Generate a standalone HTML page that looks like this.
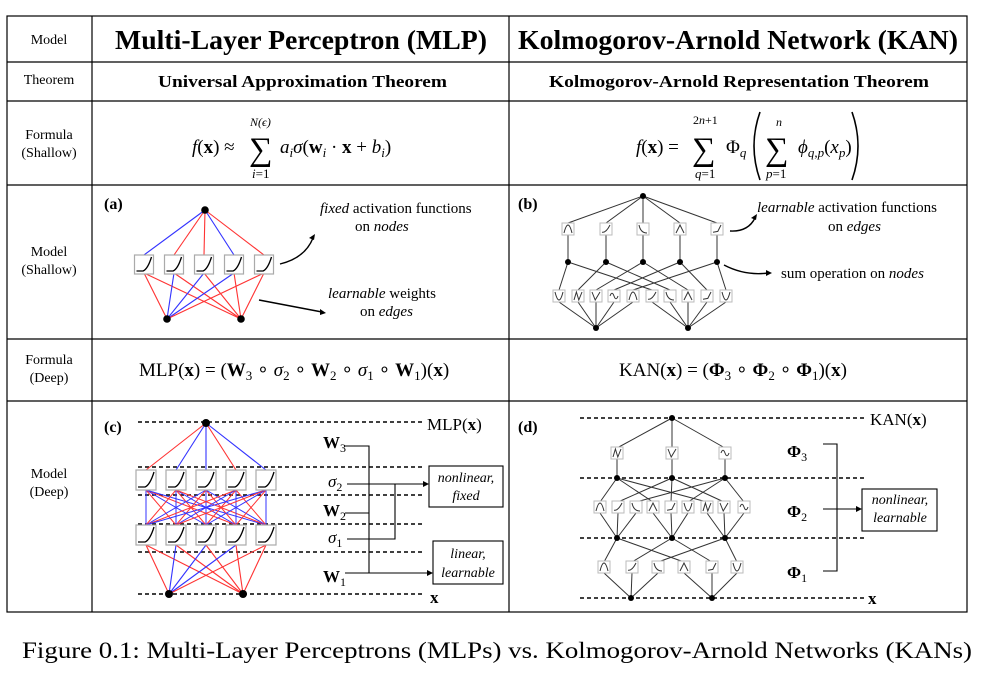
<!DOCTYPE html>
<html><head><meta charset="utf-8"><style>
html,body{margin:0;padding:0;background:#fff;}
svg{display:block;font-family:"Liberation Serif",serif;}
</style></head><body>
<svg id="s" width="1004" height="674" viewBox="0 0 1004 674" xmlns="http://www.w3.org/2000/svg">
<g stroke="#000" stroke-width="1.2" fill="none">
<rect x="7" y="16" width="960" height="596"/>
<line x1="92" y1="16" x2="92" y2="612"/><line x1="509" y1="16" x2="509" y2="612"/>
<line x1="7" y1="62" x2="967" y2="62"/><line x1="7" y1="101" x2="967" y2="101"/>
<line x1="7" y1="185" x2="967" y2="185"/><line x1="7" y1="339" x2="967" y2="339"/>
<line x1="7" y1="401" x2="967" y2="401"/>
</g>
<g font-size="14" text-anchor="middle">
<text x="49" y="44">Model</text>
<text x="49" y="84">Theorem</text>
<text x="49" y="139">Formula</text><text x="49" y="157">(Shallow)</text>
<text x="49" y="256">Model</text><text x="49" y="274">(Shallow)</text>
<text x="49" y="364">Formula</text><text x="49" y="382">(Deep)</text>
<text x="49" y="478">Model</text><text x="49" y="496">(Deep)</text>
</g>
<g font-weight="bold">
<text x="115" y="49" font-size="27" textLength="372" lengthAdjust="spacingAndGlyphs">Multi-Layer Perceptron (MLP)</text>
<text x="518" y="49" font-size="27" textLength="440" lengthAdjust="spacingAndGlyphs">Kolmogorov-Arnold Network (KAN)</text>
<text x="158" y="87" font-size="17" textLength="289" lengthAdjust="spacingAndGlyphs">Universal Approximation Theorem</text>
<text x="549" y="87" font-size="17" textLength="380" lengthAdjust="spacingAndGlyphs">Kolmogorov-Arnold Representation Theorem</text>
</g>
<!-- MLP shallow formula -->
<g font-size="19">
<text x="192" y="153"><tspan font-style="italic">f</tspan>(<tspan font-weight="bold">x</tspan>) ≈</text>
<text x="249" y="160" font-size="33">∑</text>
<text x="250" y="126" font-size="12" font-style="italic">N(ϵ)</text>
<text x="252" y="178" font-size="13"><tspan font-style="italic">i</tspan>=1</text>
<text x="280" y="153"><tspan font-style="italic">a</tspan><tspan font-size="13" font-style="italic" dy="4">i</tspan><tspan font-style="italic" dy="-4">σ</tspan>(<tspan font-weight="bold">w</tspan><tspan font-size="13" font-style="italic" dy="4">i</tspan><tspan dy="-4"> · </tspan><tspan font-weight="bold">x</tspan> + <tspan font-style="italic">b</tspan><tspan font-size="13" font-style="italic" dy="4">i</tspan><tspan dy="-4">)</tspan></text>
</g>
<!-- KAN shallow formula -->
<g font-size="19">
<text x="636" y="153"><tspan font-style="italic">f</tspan>(<tspan font-weight="bold">x</tspan>) =</text>
<text x="692" y="160" font-size="33">∑</text>
<text x="693" y="124" font-size="12">2<tspan font-style="italic">n</tspan>+1</text>
<text x="695" y="178" font-size="13"><tspan font-style="italic">q</tspan>=1</text>
<text x="726" y="153">Φ<tspan font-size="13" font-style="italic" dy="4">q</tspan></text>
<path d="M760 112 Q748 146 760 180" stroke="#000" stroke-width="1.6" fill="none"/>
<text x="765" y="160" font-size="33">∑</text>
<text x="776" y="126" font-size="12" font-style="italic">n</text>
<text x="766" y="178" font-size="13"><tspan font-style="italic">p</tspan>=1</text>
<text x="798" y="153" font-style="italic">ϕ<tspan font-size="13" dy="4">q,p</tspan><tspan dy="-4" font-style="normal">(</tspan>x<tspan font-size="13" dy="4">p</tspan><tspan dy="-4" font-style="normal">)</tspan></text>
<path d="M852 112 Q864 146 852 180" stroke="#000" stroke-width="1.6" fill="none"/>
</g>
<!-- deep formulas -->
<g font-size="19">
<text x="139" y="376">MLP(<tspan font-weight="bold">x</tspan>) = (<tspan font-weight="bold">W</tspan><tspan font-size="13" dy="4">3</tspan><tspan dy="-4"> ∘ </tspan><tspan font-style="italic">σ</tspan><tspan font-size="13" dy="4">2</tspan><tspan dy="-4"> ∘ </tspan><tspan font-weight="bold">W</tspan><tspan font-size="13" dy="4">2</tspan><tspan dy="-4"> ∘ </tspan><tspan font-style="italic">σ</tspan><tspan font-size="13" dy="4">1</tspan><tspan dy="-4"> ∘ </tspan><tspan font-weight="bold">W</tspan><tspan font-size="13" dy="4">1</tspan><tspan dy="-4">)(</tspan><tspan font-weight="bold">x</tspan>)</text>
<text x="619" y="376">KAN(<tspan font-weight="bold">x</tspan>) = (<tspan font-weight="bold">Φ</tspan><tspan font-size="13" dy="4">3</tspan><tspan dy="-4"> ∘ </tspan><tspan font-weight="bold">Φ</tspan><tspan font-size="13" dy="4">2</tspan><tspan dy="-4"> ∘ </tspan><tspan font-weight="bold">Φ</tspan><tspan font-size="13" dy="4">1</tspan><tspan dy="-4">)(</tspan><tspan font-weight="bold">x</tspan>)</text>
</g>
<g font-weight="bold" font-size="16">
<text x="104" y="209">(a)</text><text x="518" y="209">(b)</text>
<text x="104" y="432">(c)</text><text x="518" y="432">(d)</text>
</g>
<g font-size="15">
<text x="320" y="213"><tspan font-style="italic">fixed</tspan> activation functions</text>
<text x="355" y="231">on <tspan font-style="italic">nodes</tspan></text>
<text x="328" y="298"><tspan font-style="italic">learnable</tspan> weights</text>
<text x="360" y="316">on <tspan font-style="italic">edges</tspan></text>
<text x="757" y="212"><tspan font-style="italic">learnable</tspan> activation functions</text>
<text x="828" y="231">on <tspan font-style="italic">edges</tspan></text>
<text x="781" y="278">sum operation on <tspan font-style="italic">nodes</tspan></text>
</g>
<g stroke="#000" stroke-width="1.4" fill="none">
<path d="M280 264 Q305 258 313 238"/><path d="M259 300 Q290 306 322 312"/>
<path d="M730 231 Q748 232 755 218"/><path d="M724 265 Q745 276 768 273"/>
</g>
<g fill="#000">
<path d="M315 234 l-6 4 l5 2z"/><path d="M326 313 l-6 -4 l0 6z"/>
<path d="M757 214 l-6 4 l5 2z"/><path d="M772 273 l-6 -3 l0 6z"/>
</g>
<g font-size="17">
<text x="427" y="430">MLP(<tspan font-weight="bold">x</tspan>)</text>
<text x="323" y="448" font-weight="bold">W<tspan font-size="12" dy="4" font-weight="normal">3</tspan></text>
<text x="328" y="487" font-style="italic">σ<tspan font-size="12" dy="4" font-style="normal">2</tspan></text>
<text x="323" y="516" font-weight="bold">W<tspan font-size="12" dy="4" font-weight="normal">2</tspan></text>
<text x="328" y="543" font-style="italic">σ<tspan font-size="12" dy="4" font-style="normal">1</tspan></text>
<text x="323" y="582" font-weight="bold">W<tspan font-size="12" dy="4" font-weight="normal">1</tspan></text>
<text x="430" y="603" font-weight="bold">x</text>
<text x="870" y="425">KAN(<tspan font-weight="bold">x</tspan>)</text>
<text x="787" y="457" font-weight="bold">Φ<tspan font-size="12" dy="4" font-weight="normal">3</tspan></text>
<text x="787" y="517" font-weight="bold">Φ<tspan font-size="12" dy="4" font-weight="normal">2</tspan></text>
<text x="787" y="578" font-weight="bold">Φ<tspan font-size="12" dy="4" font-weight="normal">1</tspan></text>
<text x="868" y="604" font-weight="bold">x</text>
</g>
<g font-size="14" font-style="italic" text-anchor="middle">
<text x="466" y="482">nonlinear,</text><text x="466" y="500">fixed</text>
<text x="468" y="558">linear,</text><text x="468" y="577">learnable</text>
<text x="900" y="504">nonlinear,</text><text x="900" y="522">learnable</text>
</g>
<g stroke="#000" stroke-width="1.1" fill="none">
<rect x="429" y="466" width="74" height="41"/><rect x="433" y="541" width="70" height="43"/>
<rect x="862" y="489" width="75" height="42"/>
<path d="M345 446 H369 V573 M345 513 H369 M345 573 H427"/>
<path d="M347 484 H425 M347 539 H395 V484"/>
<path d="M823 444 H837 V571 H823 M823 509 H858"/>
</g>
<g fill="#000"><path d="M429 484 l-6 -3 v6z"/><path d="M433 573 l-6 -3 v6z"/><path d="M862 509 l-6 -3 v6z"/></g>
<g id="dyn"></g>
<text x="22" y="658" font-size="23" textLength="950" lengthAdjust="spacingAndGlyphs">Figure 0.1: Multi-Layer Perceptrons (MLPs) vs. Kolmogorov-Arnold Networks (KANs)</text>
</svg>
<script>
(function(){
var g=document.getElementById('dyn'),h='';
function L(x1,y1,x2,y2,c,w,d){h+='<line x1="'+x1+'" y1="'+y1+'" x2="'+x2+'" y2="'+y2+'" stroke="'+c+'" stroke-width="'+(w||1)+'"'+(d?' stroke-dasharray="'+d+'"':'')+'/>';}
function N(x,y,r){h+='<circle cx="'+x+'" cy="'+y+'" r="'+(r||4)+'" fill="#000"/>';}
function RB(cx,y,w,hh){
 var x=cx-w/2;h+='<rect x="'+x+'" y="'+y+'" width="'+w+'" height="'+hh+'" fill="#fff" stroke="#aaa" stroke-width="1.2"/>';
 h+='<path d="M'+(x+2)+' '+(y+hh-3)+' L'+(x+w*0.45)+' '+(y+hh-3)+' Q'+(x+w*0.7)+' '+(y+hh-5)+' '+(x+w-2)+' '+(y+2)+'" stroke="#000" stroke-width="1.3" fill="none"/>';}
var shapes=['M0 1 Q.5 -1 1 1','M0 .9 Q.5 1 1 0','M0 0 Q.2 1 1 1','M0 1 L.5 0 L1 1','M0 .9 L.6 .8 L1 0','M0 0 Q.5 2 1 0','M0 1 L.3 0 L.6 1 L1 0','M0 0 L.4 1 L1 0','M0 .5 Q.25 -.2 .5 .5 T1 .5'];
var si=0;
function KB(cx,cy,s){var x=cx-s/2,y=cy-s/2;h+='<rect x="'+x+'" y="'+y+'" width="'+s+'" height="'+s+'" fill="#fff" stroke="#bbb" stroke-width="1"/>';
 var p=shapes[(si++)%shapes.length];var sc=s-4;
 h+='<path transform="translate('+(x+2)+','+(y+2)+') scale('+sc+')" d="'+p+'" stroke="#333" stroke-width="'+(1/sc)+'" fill="none"/>';}
var R='#f33',B='#33f';
var ax=[144,174,204,234,264],top=[B,R,R,B,R];
for(var i=0;i<5;i++)L(205,210,ax[i],255,top[i],1.1);
var bl=[R,B,B,B,R],br=[R,R,R,R,R];
for(var i=0;i<5;i++){L(ax[i],273,167,319,bl[i],1.1);L(ax[i],273,241,319,br[i],1.1);}
for(var i=0;i<5;i++)RB(ax[i],255,19,19);
N(205,210,3.8);N(167,319,3.8);N(241,319,3.8);
var bx=[568,606,643,680,717];
for(var i=0;i<5;i++){L(643,196,bx[i],223,'#333',1);L(bx[i],235,bx[i],262,'#333',1);}
var b2=[559,578,596,614,633,652,670,688,707,726];
for(var k=0;k<10;k++){var j=k%5;L(b2[k],290,bx[j],262,'#333',1);L(b2[k],302,k<5?596:688,328,'#333',1);}
for(var i=0;i<5;i++)KB(bx[i],229,12);
for(var k=0;k<10;k++)KB(b2[k],296,12);
N(643,196,3);for(var i=0;i<5;i++)N(bx[i],262,3);N(596,328,3);N(688,328,3);
[422,467,495,524,552,594].forEach(function(y){L(138,y,425,y,'#000',1.6,'4 3');});
var cx=ax.map(function(v){return v+2;});
var ct=[R,B,B,R,B];
for(var i=0;i<5;i++)L(206,423,cx[i],470,ct[i],1.1);
for(var i=0;i<5;i++)for(var j=0;j<5;j++)L(cx[i],490,cx[j],525,((i+j)%2)?R:B,1);
var cl=[R,B,B,B,R];
for(var i=0;i<5;i++){L(cx[i],545,169,594,cl[i],1.1);L(cx[i],545,243,594,R,1.1);}
for(var i=0;i<5;i++){RB(cx[i],470,20,20);RB(cx[i],525,20,20);}
N(206,423,4);N(169,594,4);N(243,594,4);
[418,478,538,598].forEach(function(y){L(580,y,865,y,'#000',1.6,'4 3');});
var d3=[617,672,725];
for(var i=0;i<3;i++){L(672,418,d3[i],448,'#333',1);L(d3[i],458,d3[i],478,'#333',1);}
var d2=[600,618,636,653,671,688,707,724,744];
for(var k=0;k<9;k++){var a=Math.floor(k/3),b=k%3;L(d2[k],502,d3[b],478,'#333',1);L(d2[k],513,d3[a],538,'#333',1);}
var d1=[604,632,658,684,712,737];
for(var k=0;k<6;k++){var a=Math.floor(k/3),b=k%3;L(d1[k],562,d3[b],538,'#333',1);L(d1[k],573,a?712:631,598,'#333',1);}
for(var i=0;i<3;i++)KB(d3[i],453,12);
for(var k=0;k<9;k++)KB(d2[k],507,12);
for(var k=0;k<6;k++)KB(d1[k],567,12);
N(672,418,3);d3.forEach(function(x){N(x,478,3);N(x,538,3);});N(631,598,3);N(712,598,3);
g.innerHTML=h;
})();
</script>
</body></html>
